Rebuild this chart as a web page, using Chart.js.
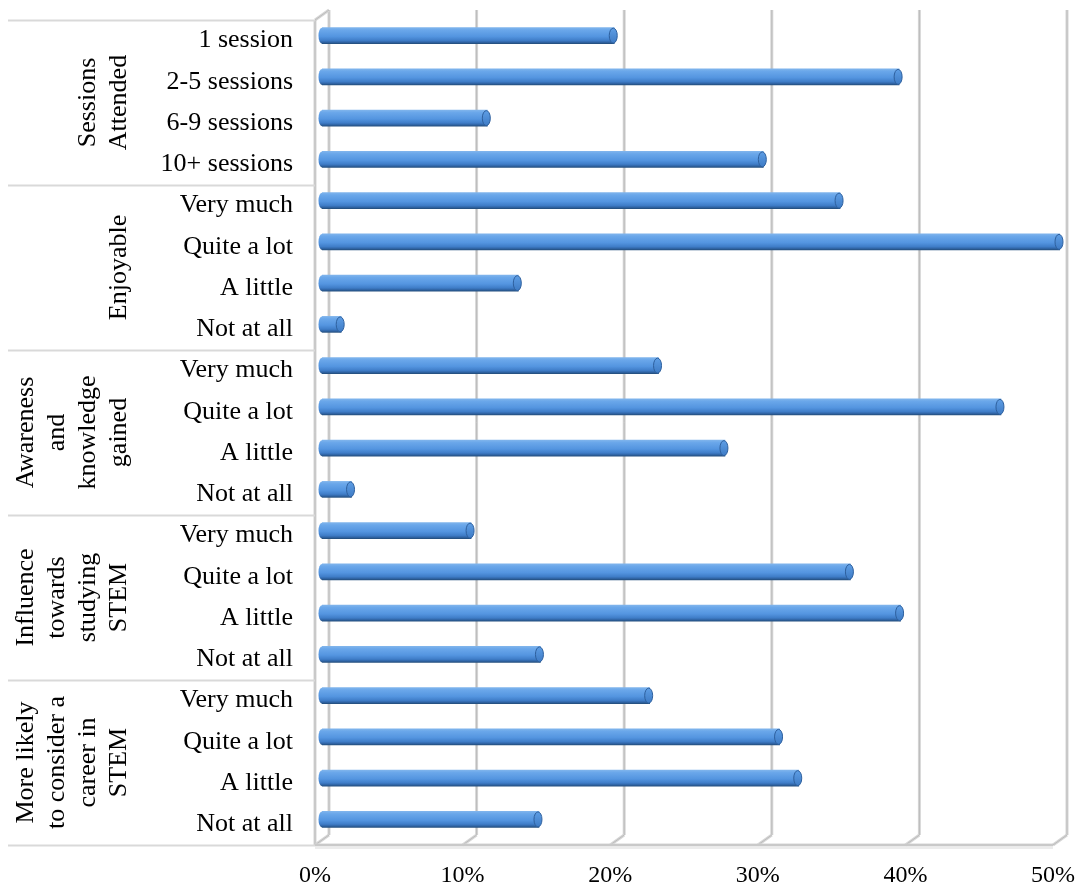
<!DOCTYPE html>
<html>
<head>
<meta charset="utf-8">
<script src="https://cdn.jsdelivr.net/npm/chart.js@4.4.1/dist/chart.umd.min.js"></script>
<style>
  html, body { margin: 0; padding: 0; background: #ffffff; }
  #wrap { width: 1076px; height: 890px; position: relative; }
</style>
</head>
<body>
<div id="wrap"><canvas id="c" width="1076" height="890"></canvas></div>
<script>
// ---- data ----
const categories = [
  "1 session", "2-5 sessions", "6-9 sessions", "10+ sessions",
  "Very much", "Quite a lot", "A little", "Not at all",
  "Very much", "Quite a lot", "A little", "Not at all",
  "Very much", "Quite a lot", "A little", "Not at all",
  "Very much", "Quite a lot", "A little", "Not at all"
];
const values = [
  19.8, 39.1, 11.2, 29.9,
  35.1, 50.0, 13.3, 1.3,
  22.8, 46.0, 27.3, 2.0,
  10.1, 35.8, 39.2, 14.8,
  22.2, 31.0, 32.3, 14.7
];
const groupLabels = [
  ["Sessions", "Attended"],
  ["Enjoyable"],
  ["Awareness", "and", "knowledge", "gained"],
  ["Influence", "towards", "studying", "STEM"],
  ["More likely", "to consider a", "career in", "STEM"]
];
const groupSizes = [4, 4, 4, 4, 4];
const xMin = 0, xMax = 50, xStep = 10;

// ---- style ----
const FONT = "'Liberation Serif', 'Times New Roman', serif";
const DX = 7, DY = 5;          // 3D depth offset (half)
const BAR_H = 16;

function barGradient(ctx, yc) {
  if (!isFinite(yc)) return '#5495e0';
  const g = ctx.createLinearGradient(0, yc - BAR_H / 2, 0, yc + BAR_H / 2);
  g.addColorStop(0, '#7fb4ec');
  g.addColorStop(0.15, '#6aa7ea');
  g.addColorStop(0.55, '#5495e0');
  g.addColorStop(0.8, '#3f7dc8');
  g.addColorStop(0.92, '#2f63a3');
  g.addColorStop(1, '#25507f');
  return g;
}

const wallsPlugin = {
  id: 'walls',
  beforeDatasetsDraw(chart) {
    const { ctx, chartArea: a, scales } = chart;
    const xs = scales.x;
    const x0 = xs.getPixelForValue(xMin);
    const x1 = xs.getPixelForValue(xMax);
    const topF = a.top + DY, botF = a.bottom + DY;
    const topB = a.top - DY, botB = a.bottom - DY;
    ctx.save();
    function gl(x1_, y1_, x2_, y2_) {
      ctx.strokeStyle = '#d6d6d6'; ctx.lineWidth = 3;
      ctx.beginPath(); ctx.moveTo(x1_, y1_); ctx.lineTo(x2_, y2_); ctx.stroke();
      ctx.strokeStyle = '#bcbcbc'; ctx.lineWidth = 1;
      ctx.beginPath(); ctx.moveTo(x1_, y1_); ctx.lineTo(x2_, y2_); ctx.stroke();
    }
    // back gridlines + floor diagonals
    for (let v = xMin; v <= xMax; v += xStep) {
      const x = xs.getPixelForValue(v);
      gl(x + DX, topB, x + DX, botB);
      gl(x - DX, botF, x + DX, botB);
    }
    // left wall front edge + top diagonal
    gl(x0 - DX, topF, x0 - DX, botF);
    gl(x0 - DX, topF, x0 + DX, topB);
    // floor front edge
    gl(x0 - DX, botF, x1 - DX, botF);
    ctx.strokeStyle = '#d9d9d9'; ctx.lineWidth = 1;
    ctx.beginPath(); ctx.moveTo(x0 - DX, botF + 3); ctx.lineTo(x1 - DX, botF + 3); ctx.stroke();

    // category group separators
    const ys = scales.y;
    const bounds = [topF];
    let idx = 0;
    groupSizes.forEach((n) => {
      idx += n;
      if (idx < categories.length) {
        bounds.push((ys.getPixelForValue(idx - 1) + ys.getPixelForValue(idx)) / 2 + DY);
      }
    });
    bounds.push(botF);
    ctx.strokeStyle = '#d9d9d9'; ctx.lineWidth = 2;
    bounds.forEach(b => {
      const yy = Math.round(b) + 0.5;
      ctx.beginPath(); ctx.moveTo(8, yy); ctx.lineTo(x0 - DX, yy); ctx.stroke();
    });

    // group labels (rotated)
    ctx.fillStyle = '#000';
    ctx.font = '26px ' + FONT;
    ctx.textAlign = 'center';
    ctx.textBaseline = 'middle';
    for (let g = 0; g < groupLabels.length; g++) {
      const yc = (bounds[g] + bounds[g + 1]) / 2;
      const lines = groupLabels[g];
      ctx.save();
      ctx.translate(0, yc);
      ctx.rotate(-Math.PI / 2);
      lines.forEach((ln, i) => {
        const sx = 119 - (lines.length - 1 - i) * 31;
        ctx.fillText(ln, 0, sx);
      });
      ctx.restore();
    }
    ctx.restore();
  },
  afterDatasetsDraw(chart) {
    const { ctx } = chart;
    const meta = chart.getDatasetMeta(0);
    ctx.save();
    meta.data.forEach((el) => {
      const yc = el.y, xb = el.base, xe = el.x;
      if (!isFinite(yc)) return;
      const ry = BAR_H / 2;
      // left rounded start
      ctx.fillStyle = barGradient(ctx, yc);
      ctx.beginPath();
      ctx.ellipse(xb, yc, 3.5, ry, 0, Math.PI / 2, Math.PI * 1.5);
      ctx.closePath();
      ctx.fill();
      // right end face
      ctx.beginPath();
      ctx.ellipse(xe - 1, yc, 4, ry - 0.5, 0, 0, Math.PI * 2);
      const g = ctx.createLinearGradient(0, yc - ry, 0, yc + ry);
      g.addColorStop(0, '#5f9fe6');
      g.addColorStop(1, '#3d7ac4');
      ctx.fillStyle = g;
      ctx.fill();
      ctx.strokeStyle = '#2e609e';
      ctx.lineWidth = 1;
      ctx.stroke();
    });
    ctx.restore();
  }
};

new Chart(document.getElementById('c'), {
  type: 'bar',
  data: {
    labels: categories,
    datasets: [{
      data: values,
      barThickness: BAR_H,
      borderWidth: 0,
      borderSkipped: false,
      backgroundColor: (c) => {
        const ch = c.chart;
        if (!ch.scales || !ch.scales.y || !ch.chartArea) return '#5495e0';
        const yc = ch.scales.y.getPixelForValue(c.dataIndex);
        return barGradient(ch.ctx, yc);
      }
    }]
  },
  options: {
    indexAxis: 'y',
    responsive: false,
    animation: false,
    devicePixelRatio: 1,
    layout: { padding: { top: 15, right: 16, left: 0, bottom: 0 } },
    plugins: { legend: { display: false }, tooltip: { enabled: false } },
    scales: {
      x: {
        min: xMin, max: xMax,
        grid: { display: false, drawTicks: false },
        border: { display: false },
        ticks: {
          stepSize: xStep,
          padding: 21,
          labelOffset: -DX,
          color: '#000',
          font: { family: FONT, size: 24 },
          callback: (v) => v + '%'
        },
        afterFit: (s) => { s.height = 50; s.paddingLeft = 0; s.paddingRight = 0; }
      },
      y: {
        grid: { display: false, drawTicks: false },
        border: { display: false },
        ticks: {
          autoSkip: false,
          padding: 29,
          labelOffset: DY,
          color: '#000',
          font: { family: FONT, size: 26 }
        },
        afterFit: (s) => { s.width = 322; s.paddingTop = 0; s.paddingBottom = 0; }
      }
    }
  },
  plugins: [wallsPlugin]
});
</script>
</body>
</html>
